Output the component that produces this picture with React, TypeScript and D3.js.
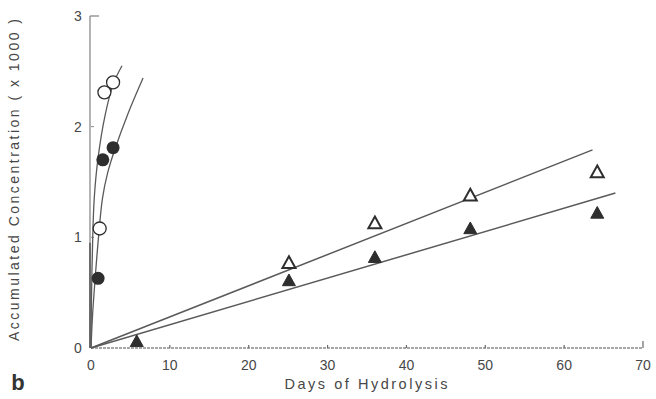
import React from 'react';
import * as d3 from 'd3';

// Accumulated concentration (x 1000) vs days of hydrolysis
const openCircles: [number, number][] = [[1.1, 1.08], [1.7, 2.31], [2.8, 2.4]];
const filledCircles: [number, number][] = [[0.9, 0.63], [1.5, 1.7], [2.8, 1.81]];
const openTriangles: [number, number][] = [[25.1, 0.77], [36, 1.13], [48.1, 1.38], [64.2, 1.59]];
const filledTriangles: [number, number][] = [[5.8, 0.06], [25.1, 0.61], [36, 0.82], [48.1, 1.08], [64.2, 1.22]];

// fitted curves
const openCurve: [number, number][] = [
  [0, 0], [0.05, 0.4], [0.18, 0.88], [0.4, 1.34], [0.9, 1.72], [1.78, 2.1], [2.79, 2.38], [3.93, 2.55],
];
const filledCurve: [number, number][] = [
  [0, 0], [0.2, 0.3], [0.55, 0.65], [0.95, 1.0], [1.45, 1.35], [2.1, 1.58], [3.05, 1.8], [4.7, 2.12], [6.6, 2.44],
];
const openLine: [number, number][] = [[0, 0], [63.6, 1.79]];
const filledLine: [number, number][] = [[0, 0], [66.5, 1.4]];

const xTicks = [0, 10, 20, 30, 40, 50, 60, 70];
const yTicks = [0, 1, 2, 3];

const W = 656;
const H = 399;
const ink = '#2e2e2e';
const lineCol = '#5a5a5a';
const textCol = '#474747';
const font = '"Liberation Sans", Arial, sans-serif';

export default function App() {
  const x = d3.scaleLinear().domain([0, 70]).range([91, 643]);
  const y = d3.scaleLinear().domain([0, 3]).range([348, 16]);

  const line = d3.line<[number, number]>().x(d => x(d[0])).y(d => y(d[1]));
  const curve = d3
    .line<[number, number]>()
    .x(d => x(d[0]))
    .y(d => y(d[1]))
    .curve(d3.curveCatmullRom.alpha(0.5));

  const tri = (cx: number, cy: number, s = 6.5) =>
    `M${cx},${cy - s}L${cx + s},${cy + s * 0.8}L${cx - s},${cy + s * 0.8}Z`;

  return (
    <svg
      width={W}
      height={H}
      style={{ position: 'absolute', left: 0, top: 0, background: '#fff' }}
      fontFamily={font}
    >
      {/* axes */}
      <line x1={x(0) - 1} x2={x(0) - 1} y1={y(3)} y2={y(0)} stroke="#8a8a8a" strokeWidth={1.3} />
      <line x1={x(0) - 1} x2={x(0) - 1} y1={y(0.95)} y2={y(0)} stroke={lineCol} strokeWidth={1.6} />
      <line x1={x(0) - 1} x2={x(0) + 8} y1={y(3)} y2={y(3)} stroke="#8a8a8a" strokeWidth={1.3} />
      <line x1={x(0)} x2={x(70)} y1={y(0)} y2={y(0)} stroke="#8a8a8a" strokeWidth={1.4} strokeDasharray="3 1" />
      {xTicks.slice(1).map(t => (
        <line
          key={`xt${t}`}
          x1={x(t)}
          x2={x(t)}
          y1={y(0)}
          y2={y(0) - (t === 70 ? 7 : 3)}
          stroke="#6a6a6a"
          strokeWidth={1.2}
        />
      ))}
      {yTicks.slice(1, 3).map(t => (
        <line key={`yt${t}`} x1={x(0)} x2={x(0) + 3} y1={y(t)} y2={y(t)} stroke="#8a8a8a" strokeWidth={1} />
      ))}

      {/* tick labels */}
      {xTicks.map(t => (
        <text key={`xl${t}`} x={x(t)} y={370} textAnchor="middle" fontSize={14} fill={textCol}>
          {t}
        </text>
      ))}
      {yTicks.map(t => (
        <text key={`yl${t}`} x={78} y={y(t) + 5} textAnchor="middle" fontSize={14} fill={textCol}>
          {t}
        </text>
      ))}

      {/* axis titles */}
      <text
        transform="translate(19,180) rotate(-90)"
        textAnchor="middle"
        fontSize={14}
        fill={textCol}
        textLength={322}
        lengthAdjust="spacing"
      >
        Accumulated Concentration ( x 1000 )
      </text>
      <text x={366} y={389} textAnchor="middle" fontSize={14.5} fill={textCol} textLength={163} lengthAdjust="spacing">
        Days of Hydrolysis
      </text>
      <text x={18} y={390} textAnchor="middle" fontSize={22} fontWeight="bold" fill="#333">
        b
      </text>

      {/* fit lines and curves */}
      <path d={line(openLine) ?? ''} fill="none" stroke={lineCol} strokeWidth={1.5} />
      <path d={line(filledLine) ?? ''} fill="none" stroke={lineCol} strokeWidth={1.5} />
      <path d={curve(openCurve) ?? ''} fill="none" stroke={lineCol} strokeWidth={1.3} />
      <path d={curve(filledCurve) ?? ''} fill="none" stroke={lineCol} strokeWidth={1.3} />

      {/* markers */}
      {openTriangles.map((d, i) => (
        <path key={`ot${i}`} d={tri(x(d[0]), y(d[1]))} fill="#fff" stroke={ink} strokeWidth={2} />
      ))}
      {filledTriangles.map((d, i) => (
        <path key={`ft${i}`} d={tri(x(d[0]), y(d[1]))} fill={ink} stroke={ink} strokeWidth={1} />
      ))}
      {openCircles.map((d, i) => (
        <circle key={`oc${i}`} cx={x(d[0])} cy={y(d[1])} r={6.5} fill="#fff" stroke={ink} strokeWidth={1.3} />
      ))}
      {filledCircles.map((d, i) => (
        <circle key={`fc${i}`} cx={x(d[0])} cy={y(d[1])} r={6.5} fill={ink} />
      ))}
    </svg>
  );
}
